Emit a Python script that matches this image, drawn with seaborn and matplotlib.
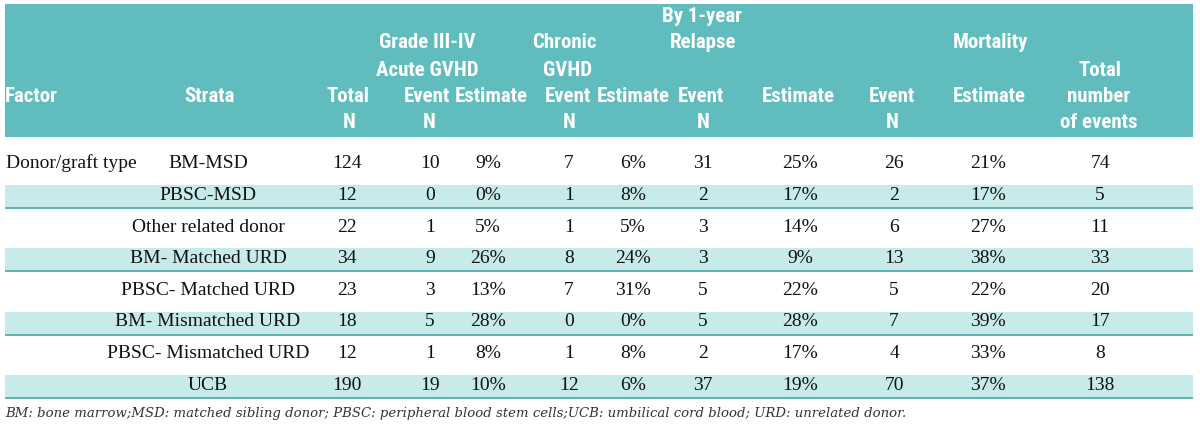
import matplotlib
matplotlib.use("Agg")
import matplotlib.pyplot as plt
from matplotlib import font_manager
from matplotlib.patches import Rectangle
import seaborn as sns

# table values
factor = ["Donor/graft type", "", "", "", "", "", "", ""]
strata = ["BM-MSD", "PBSC-MSD", "Other related donor", "BM- Matched URD",
          "PBSC- Matched URD", "BM- Mismatched URD", "PBSC- Mismatched URD", "UCB"]
total_n = [124, 12, 22, 34, 23, 18, 12, 190]
agvhd_event = [10, 0, 1, 9, 3, 5, 1, 19]
agvhd_est = [9, 0, 5, 26, 13, 28, 8, 10]
cgvhd_event = [7, 1, 1, 8, 7, 0, 1, 12]
cgvhd_est = [6, 8, 5, 24, 31, 0, 8, 6]
relapse_event = [31, 2, 3, 3, 5, 5, 2, 37]
relapse_est = [25, 17, 14, 9, 22, 28, 17, 19]
mort_event = [26, 2, 6, 13, 5, 7, 4, 70]
mort_est = [21, 17, 27, 38, 22, 39, 33, 37]
total_events = [74, 5, 11, 33, 20, 17, 8, 138]

footnote = ("BM: bone marrow;MSD: matched sibling donor; PBSC: peripheral blood stem cells;"
            "UCB: umbilical cord blood; URD: unrelated donor.")

# layout (pixels)
TEAL = "#61bdbd"
LIGHT = "#c7eaea"
LINE = "#5cb4b4"
X0, X1 = 5, 1193
HEAD_TOP, HEAD_BOT = 4, 137
ROW0, STEP = 165, 31.6
HEAD_Y = [17, 43, 70, 97, 123]

col_x = [208, 347, 430, 488, 569, 633, 703, 800, 894, 988, 1100]

header = [
    ("Factor", X0, 3, "left"),
    ("Strata", 209, 3, "center"),
    ("Total", 348, 3, "center"), ("N", 349, 4, "center"),
    ("Grade III-IV", 427, 1, "center"), ("Acute GVHD", 427, 2, "center"),
    ("Event", 427, 3, "center"), ("N", 429, 4, "center"),
    ("Estimate", 491, 3, "center"),
    ("Chronic", 564, 1, "center"), ("GVHD", 568, 2, "center"),
    ("Event", 568, 3, "center"), ("N", 569, 4, "center"),
    ("Estimate", 633, 3, "center"),
    ("By 1-year", 702, 0, "center"), ("Relapse", 703, 1, "center"),
    ("Event", 701, 3, "center"), ("N", 703, 4, "center"),
    ("Estimate", 798, 3, "center"),
    ("Mortality", 990, 1, "center"),
    ("Event", 892, 3, "center"), ("N", 892, 4, "center"),
    ("Estimate", 989, 3, "center"),
    ("Total", 1100, 2, "center"), ("number", 1099, 3, "center"),
    ("of events", 1099, 4, "center"),
]


def pick_header_font():
    # narrow bold sans if there is one, else a smaller plain one
    fonts = font_manager.fontManager.ttflist
    names = {f.name for f in fonts}
    for name in ["Liberation Sans Narrow", "Roboto Condensed", "Open Sans Condensed",
                 "Arial Narrow"]:
        if name in names:
            return dict(family=[name, "DejaVu Sans"], fontsize=15)
    if any(f.name == "DejaVu Sans" and f.stretch == "condensed" for f in fonts):
        return dict(family=["DejaVu Sans"], fontstretch="condensed", fontsize=13)
    return dict(family=["Roboto", "DejaVu Sans"], fontsize=12.5)


def main():
    sns.set_theme(style="white")
    head_font = dict(fontweight="bold", color="white", **pick_header_font())
    body_font = dict(family=["Liberation Serif", "DejaVu Serif"],
                     fontsize=14, color="#111111")

    fig = plt.figure(figsize=(12, 4.29), dpi=100)
    ax = fig.add_axes([0, 0, 1, 1])
    ax.set_xlim(0, 1200)
    ax.set_ylim(429, 0)
    ax.axis("off")

    ax.add_patch(Rectangle((X0, HEAD_TOP), X1 - X0, HEAD_BOT - HEAD_TOP,
                           color=TEAL, lw=0))
    for txt, x, line, ha in header:
        ax.text(x, HEAD_Y[line], txt, ha=ha, va="center", **head_font)

    columns = [strata, total_n, agvhd_event, [f"{v}%" for v in agvhd_est],
               cgvhd_event, [f"{v}%" for v in cgvhd_est],
               relapse_event, [f"{v}%" for v in relapse_est],
               mort_event, [f"{v}%" for v in mort_est], total_events]

    for i in range(len(strata)):
        y = ROW0 + i * STEP
        if i % 2 == 1:
            ax.add_patch(Rectangle((X0, y - 11.5), X1 - X0, 23, color=LIGHT, lw=0))
            ax.plot([X0, X1], [y + 11.5, y + 11.5], color=LINE, lw=1.4,
                    solid_capstyle="butt")
        if factor[i]:
            ax.text(X0 + 1, y - 2, factor[i], ha="left", va="center", **body_font)
        for x, col in zip(col_x, columns):
            ax.text(x, y - 1, str(col[i]), ha="center", va="center", **body_font)

    ax.text(X0, 413, footnote, ha="left", va="center", style="italic",
            family=["DejaVu Serif"], fontsize=9.5, color="#333333")

    fig.savefig("out.png", dpi=100)


if __name__ == "__main__":
    main()
